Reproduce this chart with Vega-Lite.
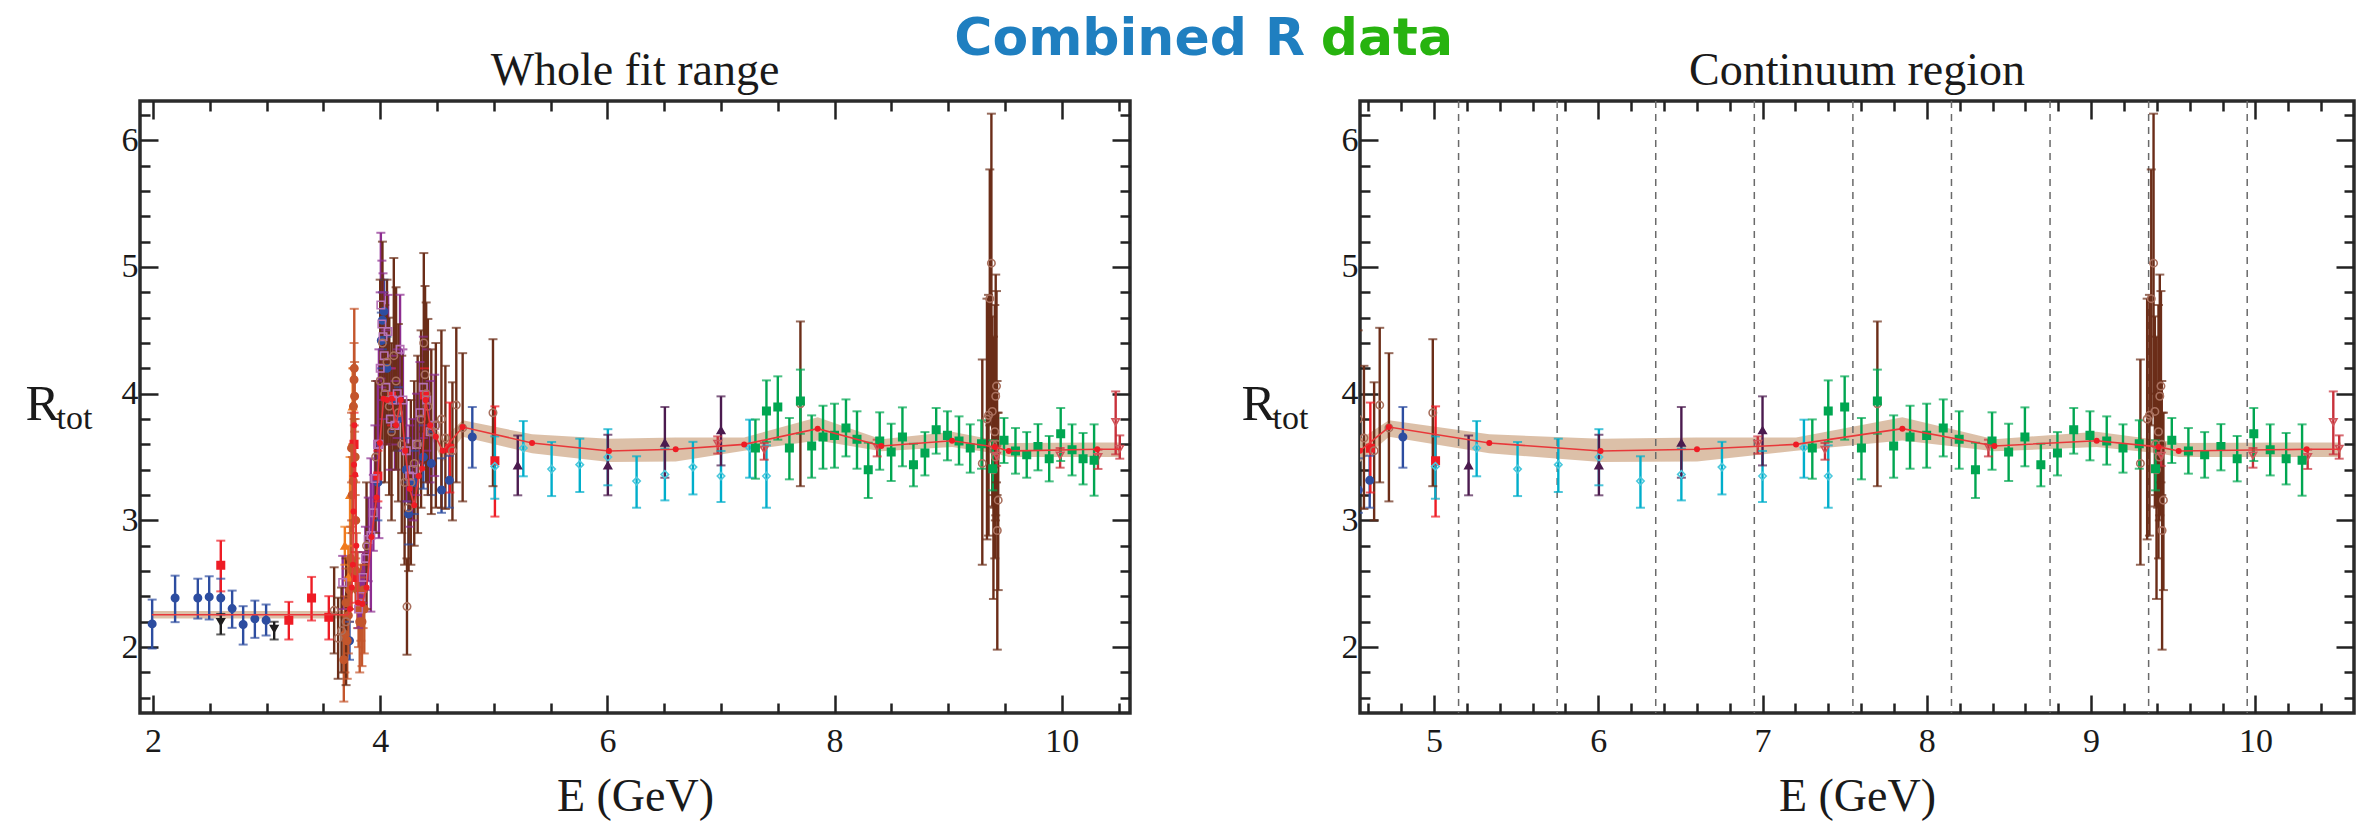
{
"$schema": "https://vega.github.io/schema/vega-lite/v6.json",
"background": "white",
"padding": {"left": 23, "top": 13, "right": 0, "bottom": 0},
"config": {
  "view": {"stroke": "#2b2b2b", "strokeWidth": 3.5},
  "axis": {"domain": false, "grid": false, "tickColor": "#222222", "tickWidth": 2.5, "labelFont": "Liberation Serif", "labelFontSize": 34, "labelColor": "#1a1a1a", "labelOverlap": false, "labelFlush": false, "labelBound": false, "titleFont": "Liberation Serif", "titleFontWeight": "normal", "titleColor": "#1a1a1a", "zindex": 1}
},
"title": {"text": "Combined R", "subtitle": "\u2800\u00a0\u00a0\u00a0\u00a0\u00a0\u00a0\u00a0\u00a0\u00a0\u00a0\u00a0\u00a0\u00a0\u00a0\u00a0\u00a0\u00a0\u00a0data", "anchor": "start", "frame": "bounds", "dx": 931, "offset": -20, "font": "DejaVu Sans", "fontSize": 52, "fontWeight": "bold", "color": "#1f7fc0", "subtitleFont": "DejaVu Sans", "subtitleFontSize": 52, "subtitleFontWeight": "bold", "subtitleColor": "#27b30f", "subtitlePadding": -52},
"datasets": {
  "fit": [
    {"E": 1.99, "R": 2.255, "lo": 2.225, "hi": 2.285},
    {"E": 3.72, "R": 2.255, "lo": 2.225, "hi": 2.285},
    {"E": 3.735, "R": 2.30, "lo": 2.26, "hi": 2.34},
    {"E": 3.75, "R": 2.47, "lo": 2.42, "hi": 2.52},
    {"E": 3.76, "R": 2.65, "lo": 2.60, "hi": 2.70},
    {"E": 3.765, "R": 3.07, "lo": 3.00, "hi": 3.14},
    {"E": 3.77, "R": 3.44, "lo": 3.36, "hi": 3.52},
    {"E": 3.773, "R": 3.75, "lo": 3.65, "hi": 3.85},
    {"E": 3.78, "R": 3.36, "lo": 3.28, "hi": 3.44},
    {"E": 3.79, "R": 2.80, "lo": 2.74, "hi": 2.86},
    {"E": 3.806, "R": 2.35, "lo": 2.30, "hi": 2.40},
    {"E": 3.842, "R": 2.34, "lo": 2.29, "hi": 2.39},
    {"E": 3.88, "R": 2.47, "lo": 2.42, "hi": 2.52},
    {"E": 3.924, "R": 2.87, "lo": 2.81, "hi": 2.93},
    {"E": 3.968, "R": 3.18, "lo": 3.11, "hi": 3.25},
    {"E": 3.997, "R": 3.61, "lo": 3.53, "hi": 3.69},
    {"E": 4.03, "R": 3.96, "lo": 3.88, "hi": 4.04},
    {"E": 4.06, "R": 3.95, "lo": 3.87, "hi": 4.03},
    {"E": 4.10, "R": 3.96, "lo": 3.88, "hi": 4.04},
    {"E": 4.14, "R": 3.75, "lo": 3.67, "hi": 3.83},
    {"E": 4.18, "R": 3.95, "lo": 3.87, "hi": 4.03},
    {"E": 4.22, "R": 3.55, "lo": 3.47, "hi": 3.63},
    {"E": 4.26, "R": 3.25, "lo": 3.18, "hi": 3.32},
    {"E": 4.30, "R": 3.12, "lo": 3.05, "hi": 3.19},
    {"E": 4.34, "R": 3.35, "lo": 3.28, "hi": 3.42},
    {"E": 4.37, "R": 3.41, "lo": 3.34, "hi": 3.48},
    {"E": 4.40, "R": 3.95, "lo": 3.87, "hi": 4.03},
    {"E": 4.44, "R": 3.75, "lo": 3.67, "hi": 3.83},
    {"E": 4.49, "R": 3.66, "lo": 3.58, "hi": 3.74},
    {"E": 4.55, "R": 3.55, "lo": 3.46, "hi": 3.64},
    {"E": 4.726, "R": 3.737, "lo": 3.66, "hi": 3.79},
    {"E": 5.337, "R": 3.611, "lo": 3.53, "hi": 3.68},
    {"E": 6.014, "R": 3.548, "lo": 3.46, "hi": 3.645},
    {"E": 6.601, "R": 3.561, "lo": 3.465, "hi": 3.655},
    {"E": 7.204, "R": 3.60, "lo": 3.55, "hi": 3.655},
    {"E": 7.851, "R": 3.724, "lo": 3.63, "hi": 3.815},
    {"E": 8.411, "R": 3.587, "lo": 3.545, "hi": 3.64},
    {"E": 9.034, "R": 3.629, "lo": 3.58, "hi": 3.70},
    {"E": 9.41, "R": 3.58, "lo": 3.53, "hi": 3.635},
    {"E": 9.533, "R": 3.548, "lo": 3.50, "hi": 3.61},
    {"E": 10.312, "R": 3.561, "lo": 3.50, "hi": 3.615},
    {"E": 10.52, "R": 3.561, "lo": 3.50, "hi": 3.615}
  ],
  "vlines": [{"E": 5.15}, {"E": 5.75}, {"E": 6.35}, {"E": 6.95}, {"E": 7.55}, {"E": 8.15}, {"E": 8.75}, {"E": 9.35}, {"E": 9.95}],
  "pts": [
    {"s": "blue", "E": 1.993, "R": 2.183, "lo": 1.989, "hi": 2.375},
    {"s": "blue", "E": 2.195, "R": 2.388, "lo": 2.197, "hi": 2.564},
    {"s": "blue", "E": 2.395, "R": 2.388, "lo": 2.225, "hi": 2.54},
    {"s": "blue", "E": 2.495, "R": 2.396, "lo": 2.218, "hi": 2.559},
    {"s": "blue", "E": 2.597, "R": 2.388, "lo": 2.257, "hi": 2.54},
    {"s": "blue", "E": 2.697, "R": 2.304, "lo": 2.152, "hi": 2.446},
    {"s": "blue", "E": 2.794, "R": 2.178, "lo": 2.02, "hi": 2.323},
    {"s": "blue", "E": 2.897, "R": 2.223, "lo": 2.073, "hi": 2.367},
    {"s": "blue", "E": 2.996, "R": 2.212, "lo": 2.092, "hi": 2.336},
    {"s": "blue", "E": 3.73, "R": 2.05, "lo": 1.90, "hi": 2.20},
    {"s": "blue", "E": 3.98, "R": 3.30, "lo": 3.00, "hi": 3.60},
    {"s": "blue", "E": 4.01, "R": 4.42, "lo": 4.20, "hi": 4.64},
    {"s": "blue", "E": 4.02, "R": 4.58, "lo": 4.35, "hi": 4.80},
    {"s": "blue", "E": 4.034, "R": 4.65, "lo": 4.40, "hi": 4.90},
    {"s": "blue", "E": 4.06, "R": 4.20, "lo": 3.95, "hi": 4.45},
    {"s": "blue", "E": 4.10, "R": 3.95, "lo": 3.70, "hi": 4.20},
    {"s": "blue", "E": 4.16, "R": 3.80, "lo": 3.55, "hi": 4.05},
    {"s": "blue", "E": 4.23, "R": 3.40, "lo": 3.15, "hi": 3.65},
    {"s": "blue", "E": 4.25, "R": 3.05, "lo": 2.81, "hi": 3.30},
    {"s": "blue", "E": 4.30, "R": 3.30, "lo": 3.05, "hi": 3.55},
    {"s": "blue", "E": 4.38, "R": 3.50, "lo": 3.25, "hi": 3.75},
    {"s": "blue", "E": 4.45, "R": 3.45, "lo": 3.20, "hi": 3.70},
    {"s": "blue", "E": 4.54, "R": 3.24, "lo": 3.06, "hi": 3.49},
    {"s": "blue", "E": 4.609, "R": 3.316, "lo": 3.10, "hi": 3.51},
    {"s": "blue", "E": 4.811, "R": 3.658, "lo": 3.416, "hi": 3.895},
    {"s": "black", "E": 2.597, "R": 2.199, "lo": 2.10, "hi": 2.262},
    {"s": "black", "E": 3.067, "R": 2.144, "lo": 2.06, "hi": 2.20},
    {"s": "red", "E": 2.597, "R": 2.646, "lo": 2.44, "hi": 2.84},
    {"s": "red", "E": 3.196, "R": 2.212, "lo": 2.06, "hi": 2.357},
    {"s": "red", "E": 3.396, "R": 2.388, "lo": 2.21, "hi": 2.554},
    {"s": "red", "E": 3.548, "R": 2.236, "lo": 2.06, "hi": 2.402},
    {"s": "red", "E": 3.77, "R": 3.60, "lo": 3.35, "hi": 3.85},
    {"s": "red", "E": 3.785, "R": 2.55, "lo": 2.35, "hi": 2.75},
    {"s": "red", "E": 3.98, "R": 3.35, "lo": 3.15, "hi": 3.55},
    {"s": "red", "E": 4.10, "R": 3.98, "lo": 3.75, "hi": 4.20},
    {"s": "red", "E": 4.39, "R": 3.99, "lo": 3.75, "hi": 4.20},
    {"s": "red", "E": 4.613, "R": 3.57, "lo": 3.22, "hi": 3.93},
    {"s": "red", "E": 5.01, "R": 3.47, "lo": 3.03, "hi": 3.90},
    {"s": "orange", "E": 3.689, "R": 2.80, "lo": 2.65, "hi": 2.95},
    {"s": "orange", "E": 3.72, "R": 2.55, "lo": 2.30, "hi": 2.80},
    {"s": "orange", "E": 3.735, "R": 3.20, "lo": 2.90, "hi": 3.50},
    {"s": "orange", "E": 3.758, "R": 3.90, "lo": 3.60, "hi": 4.20},
    {"s": "rust", "E": 3.680, "R": 1.90, "lo": 1.57, "hi": 2.25},
    {"s": "rust", "E": 3.690, "R": 2.10, "lo": 1.80, "hi": 2.40},
    {"s": "rust", "E": 3.700, "R": 2.35, "lo": 2.05, "hi": 2.62},
    {"s": "rust", "E": 3.710, "R": 2.05, "lo": 1.75, "hi": 2.35},
    {"s": "rust", "E": 3.720, "R": 2.25, "lo": 1.95, "hi": 2.55},
    {"s": "rust", "E": 3.730, "R": 2.45, "lo": 2.20, "hi": 2.70},
    {"s": "rust", "E": 3.740, "R": 2.70, "lo": 2.45, "hi": 2.95},
    {"s": "rust", "E": 3.748, "R": 2.67, "lo": 2.30, "hi": 3.00},
    {"s": "rust", "E": 3.748, "R": 3.57, "lo": 3.30, "hi": 3.85},
    {"s": "rust", "E": 3.755, "R": 3.20, "lo": 2.90, "hi": 3.50},
    {"s": "rust", "E": 3.763, "R": 3.31, "lo": 3.00, "hi": 3.60},
    {"s": "rust", "E": 3.765, "R": 3.90, "lo": 3.60, "hi": 4.20},
    {"s": "rust", "E": 3.770, "R": 4.11, "lo": 3.80, "hi": 4.40},
    {"s": "rust", "E": 3.772, "R": 4.20, "lo": 3.75, "hi": 4.67},
    {"s": "rust", "E": 3.775, "R": 3.98, "lo": 3.70, "hi": 4.25},
    {"s": "rust", "E": 3.780, "R": 3.50, "lo": 3.20, "hi": 3.80},
    {"s": "rust", "E": 3.785, "R": 3.00, "lo": 2.70, "hi": 3.30},
    {"s": "rust", "E": 3.790, "R": 2.60, "lo": 2.30, "hi": 2.90},
    {"s": "rust", "E": 3.800, "R": 2.45, "lo": 2.15, "hi": 2.75},
    {"s": "rust", "E": 3.810, "R": 2.30, "lo": 2.00, "hi": 2.60},
    {"s": "rust", "E": 3.820, "R": 2.20, "lo": 1.80, "hi": 2.60},
    {"s": "rust", "E": 3.830, "R": 2.35, "lo": 2.05, "hi": 2.65},
    {"s": "rust", "E": 3.840, "R": 2.20, "lo": 1.85, "hi": 2.55},
    {"s": "rust", "E": 3.850, "R": 2.45, "lo": 2.15, "hi": 2.75},
    {"s": "rust", "E": 3.860, "R": 2.30, "lo": 1.95, "hi": 2.65},
    {"s": "purple", "E": 3.670, "R": 2.51, "lo": 2.30, "hi": 2.72},
    {"s": "purple", "E": 3.810, "R": 2.30, "lo": 2.15, "hi": 2.45},
    {"s": "purple", "E": 3.830, "R": 2.40, "lo": 2.20, "hi": 2.60},
    {"s": "purple", "E": 3.850, "R": 2.55, "lo": 2.35, "hi": 2.75},
    {"s": "purple", "E": 3.870, "R": 2.70, "lo": 2.45, "hi": 2.95},
    {"s": "purple", "E": 3.895, "R": 2.85, "lo": 2.52, "hi": 3.18},
    {"s": "purple", "E": 3.918, "R": 2.88, "lo": 2.28, "hi": 3.49},
    {"s": "purple", "E": 3.940, "R": 3.06, "lo": 2.76, "hi": 3.36},
    {"s": "purple", "E": 3.954, "R": 3.33, "lo": 2.91, "hi": 3.75},
    {"s": "purple", "E": 3.977, "R": 3.60, "lo": 3.10, "hi": 4.10},
    {"s": "purple", "E": 3.989, "R": 3.60, "lo": 2.86, "hi": 4.35},
    {"s": "purple", "E": 4.000, "R": 4.20, "lo": 3.60, "hi": 4.80},
    {"s": "purple", "E": 4.006, "R": 4.70, "lo": 4.12, "hi": 5.27},
    {"s": "purple", "E": 4.015, "R": 4.55, "lo": 4.05, "hi": 5.05},
    {"s": "purple", "E": 4.025, "R": 4.45, "lo": 3.95, "hi": 4.95},
    {"s": "purple", "E": 4.035, "R": 4.30, "lo": 3.80, "hi": 4.80},
    {"s": "purple", "E": 4.050, "R": 4.05, "lo": 3.60, "hi": 4.50},
    {"s": "purple", "E": 4.070, "R": 4.49, "lo": 4.20, "hi": 4.78},
    {"s": "purple", "E": 4.090, "R": 3.80, "lo": 3.40, "hi": 4.20},
    {"s": "purple", "E": 4.110, "R": 3.95, "lo": 3.60, "hi": 4.30},
    {"s": "purple", "E": 4.130, "R": 3.75, "lo": 3.40, "hi": 4.10},
    {"s": "purple", "E": 4.150, "R": 4.00, "lo": 3.65, "hi": 4.35},
    {"s": "purple", "E": 4.175, "R": 4.35, "lo": 3.92, "hi": 4.78},
    {"s": "purple", "E": 4.200, "R": 3.95, "lo": 3.55, "hi": 4.35},
    {"s": "purple", "E": 4.230, "R": 3.55, "lo": 3.15, "hi": 3.95},
    {"s": "purple", "E": 4.260, "R": 3.35, "lo": 2.95, "hi": 3.75},
    {"s": "purple", "E": 4.290, "R": 3.40, "lo": 3.00, "hi": 3.80},
    {"s": "purple", "E": 4.320, "R": 3.60, "lo": 3.20, "hi": 4.00},
    {"s": "purple", "E": 4.350, "R": 3.85, "lo": 3.45, "hi": 4.25},
    {"s": "purple", "E": 4.380, "R": 4.05, "lo": 3.65, "hi": 4.45},
    {"s": "purple", "E": 4.410, "R": 3.95, "lo": 3.55, "hi": 4.35},
    {"s": "purple", "E": 4.440, "R": 3.70, "lo": 3.30, "hi": 4.10},
    {"s": "purple", "E": 4.480, "R": 3.75, "lo": 3.35, "hi": 4.15},
    {"s": "brown", "E": 3.595, "R": 2.29, "lo": 1.95, "hi": 2.63},
    {"s": "brown", "E": 3.630, "R": 2.07, "lo": 1.75, "hi": 2.39},
    {"s": "brown", "E": 3.660, "R": 2.13, "lo": 1.80, "hi": 2.47},
    {"s": "brown", "E": 3.700, "R": 2.20, "lo": 1.70, "hi": 2.70},
    {"s": "brown", "E": 3.880, "R": 2.80, "lo": 2.30, "hi": 3.30},
    {"s": "brown", "E": 3.960, "R": 3.50, "lo": 2.90, "hi": 4.10},
    {"s": "brown", "E": 4.000, "R": 4.10, "lo": 3.30, "hi": 4.90},
    {"s": "brown", "E": 4.020, "R": 4.40, "lo": 3.60, "hi": 5.20},
    {"s": "brown", "E": 4.040, "R": 4.00, "lo": 3.30, "hi": 4.70},
    {"s": "brown", "E": 4.060, "R": 4.25, "lo": 3.60, "hi": 4.90},
    {"s": "brown", "E": 4.080, "R": 3.90, "lo": 3.20, "hi": 4.60},
    {"s": "brown", "E": 4.100, "R": 3.70, "lo": 3.00, "hi": 4.40},
    {"s": "brown", "E": 4.120, "R": 4.30, "lo": 3.55, "hi": 5.07},
    {"s": "brown", "E": 4.140, "R": 4.10, "lo": 3.40, "hi": 4.84},
    {"s": "brown", "E": 4.160, "R": 3.85, "lo": 3.15, "hi": 4.55},
    {"s": "brown", "E": 4.190, "R": 3.60, "lo": 2.90, "hi": 4.30},
    {"s": "brown", "E": 4.215, "R": 3.30, "lo": 2.65, "hi": 3.95},
    {"s": "brown", "E": 4.236, "R": 2.32, "lo": 1.94, "hi": 2.70},
    {"s": "brown", "E": 4.250, "R": 3.10, "lo": 2.60, "hi": 3.60},
    {"s": "brown", "E": 4.270, "R": 3.30, "lo": 2.65, "hi": 3.95},
    {"s": "brown", "E": 4.300, "R": 3.45, "lo": 2.80, "hi": 4.10},
    {"s": "brown", "E": 4.330, "R": 3.60, "lo": 2.90, "hi": 4.30},
    {"s": "brown", "E": 4.360, "R": 3.80, "lo": 3.10, "hi": 4.50},
    {"s": "brown", "E": 4.384, "R": 4.40, "lo": 3.70, "hi": 5.11},
    {"s": "brown", "E": 4.395, "R": 4.15, "lo": 3.45, "hi": 4.85},
    {"s": "brown", "E": 4.405, "R": 4.00, "lo": 3.30, "hi": 4.72},
    {"s": "brown", "E": 4.420, "R": 3.90, "lo": 3.20, "hi": 4.59},
    {"s": "brown", "E": 4.450, "R": 3.70, "lo": 3.05, "hi": 4.35},
    {"s": "brown", "E": 4.490, "R": 3.75, "lo": 3.10, "hi": 4.40},
    {"s": "brown", "E": 4.539, "R": 3.80, "lo": 3.10, "hi": 4.50},
    {"s": "brown", "E": 4.574, "R": 3.65, "lo": 3.09, "hi": 4.22},
    {"s": "brown", "E": 4.636, "R": 3.55, "lo": 3.00, "hi": 4.09},
    {"s": "brown", "E": 4.670, "R": 3.91, "lo": 3.30, "hi": 4.52},
    {"s": "brown", "E": 4.726, "R": 3.73, "lo": 3.15, "hi": 4.32},
    {"s": "brown", "E": 4.993, "R": 3.85, "lo": 3.27, "hi": 4.43},
    {"s": "brown", "E": 7.699, "R": 3.92, "lo": 3.27, "hi": 4.57},
    {"s": "brown", "E": 9.300, "R": 3.45, "lo": 2.65, "hi": 4.27},
    {"s": "brown", "E": 9.341, "R": 3.80, "lo": 2.85, "hi": 4.75},
    {"s": "brown", "E": 9.355, "R": 3.83, "lo": 2.88, "hi": 4.78},
    {"s": "brown", "E": 9.366, "R": 4.75, "lo": 3.75, "hi": 5.77},
    {"s": "brown", "E": 9.380, "R": 5.03, "lo": 3.85, "hi": 6.21},
    {"s": "brown", "E": 9.388, "R": 3.86, "lo": 3.11, "hi": 4.61},
    {"s": "brown", "E": 9.392, "R": 3.60, "lo": 3.20, "hi": 4.00},
    {"s": "brown", "E": 9.398, "R": 3.40, "lo": 2.38, "hi": 4.45},
    {"s": "brown", "E": 9.405, "R": 3.55, "lo": 3.10, "hi": 4.00},
    {"s": "brown", "E": 9.410, "R": 3.70, "lo": 2.70, "hi": 4.70},
    {"s": "brown", "E": 9.415, "R": 3.50, "lo": 3.00, "hi": 4.00},
    {"s": "brown", "E": 9.418, "R": 3.98, "lo": 3.04, "hi": 4.94},
    {"s": "brown", "E": 9.425, "R": 4.06, "lo": 3.30, "hi": 4.81},
    {"s": "brown", "E": 9.430, "R": 3.60, "lo": 3.20, "hi": 4.10},
    {"s": "brown", "E": 9.432, "R": 2.92, "lo": 1.98, "hi": 3.85},
    {"s": "brown", "E": 9.440, "R": 3.16, "lo": 2.45, "hi": 3.85},
    {"s": "cyan", "E": 5.009, "R": 3.426, "lo": 3.171, "hi": 3.663},
    {"s": "cyan", "E": 5.26, "R": 3.571, "lo": 3.348, "hi": 3.784},
    {"s": "cyan", "E": 5.509, "R": 3.405, "lo": 3.192, "hi": 3.619},
    {"s": "cyan", "E": 5.757, "R": 3.44, "lo": 3.224, "hi": 3.645},
    {"s": "cyan", "E": 6.004, "R": 3.50, "lo": 3.277, "hi": 3.72},
    {"s": "cyan", "E": 6.257, "R": 3.31, "lo": 3.10, "hi": 3.506},
    {"s": "cyan", "E": 6.506, "R": 3.363, "lo": 3.158, "hi": 3.566},
    {"s": "cyan", "E": 6.753, "R": 3.421, "lo": 3.205, "hi": 3.62},
    {"s": "cyan", "E": 7.0, "R": 3.35, "lo": 3.145, "hi": 3.548},
    {"s": "cyan", "E": 7.252, "R": 3.574, "lo": 3.337, "hi": 3.795},
    {"s": "cyan", "E": 7.40, "R": 3.35, "lo": 3.10, "hi": 3.592},
    {"s": "plum", "E": 5.211, "R": 3.434, "lo": 3.198, "hi": 3.67},
    {"s": "plum", "E": 6.004, "R": 3.434, "lo": 3.198, "hi": 3.676},
    {"s": "plum", "E": 6.506, "R": 3.613, "lo": 3.337, "hi": 3.895},
    {"s": "plum", "E": 7.0, "R": 3.711, "lo": 3.434, "hi": 3.979},
    {"s": "darkred", "E": 6.971, "R": 3.605, "lo": 3.527, "hi": 3.663},
    {"s": "darkred", "E": 7.38, "R": 3.558, "lo": 3.479, "hi": 3.611},
    {"s": "darkred", "E": 8.375, "R": 3.579, "lo": 3.505, "hi": 3.637},
    {"s": "darkred", "E": 9.426, "R": 3.51, "lo": 3.43, "hi": 3.584},
    {"s": "darkred", "E": 9.985, "R": 3.513, "lo": 3.416, "hi": 3.571},
    {"s": "darkred", "E": 10.318, "R": 3.50, "lo": 3.406, "hi": 3.558},
    {"s": "darkred", "E": 10.474, "R": 3.776, "lo": 3.521, "hi": 4.018},
    {"s": "darkred", "E": 10.51, "R": 3.566, "lo": 3.487, "hi": 3.671},
    {"s": "green", "E": 7.303, "R": 3.571, "lo": 3.329, "hi": 3.797},
    {"s": "green", "E": 7.40, "R": 3.863, "lo": 3.62, "hi": 4.105},
    {"s": "green", "E": 7.50, "R": 3.895, "lo": 3.637, "hi": 4.137},
    {"s": "green", "E": 7.602, "R": 3.571, "lo": 3.324, "hi": 3.808},
    {"s": "green", "E": 7.699, "R": 3.942, "lo": 3.684, "hi": 4.19},
    {"s": "green", "E": 7.798, "R": 3.587, "lo": 3.337, "hi": 3.829},
    {"s": "green", "E": 7.898, "R": 3.658, "lo": 3.408, "hi": 3.905},
    {"s": "green", "E": 7.999, "R": 3.671, "lo": 3.416, "hi": 3.921},
    {"s": "green", "E": 8.10, "R": 3.729, "lo": 3.505, "hi": 3.955},
    {"s": "green", "E": 8.197, "R": 3.64, "lo": 3.408, "hi": 3.861},
    {"s": "green", "E": 8.296, "R": 3.40, "lo": 3.177, "hi": 3.613},
    {"s": "green", "E": 8.397, "R": 3.626, "lo": 3.40, "hi": 3.853},
    {"s": "green", "E": 8.498, "R": 3.54, "lo": 3.311, "hi": 3.763},
    {"s": "green", "E": 8.597, "R": 3.658, "lo": 3.427, "hi": 3.892},
    {"s": "green", "E": 8.694, "R": 3.44, "lo": 3.269, "hi": 3.605},
    {"s": "green", "E": 8.795, "R": 3.532, "lo": 3.355, "hi": 3.697},
    {"s": "green", "E": 8.894, "R": 3.716, "lo": 3.527, "hi": 3.887},
    {"s": "green", "E": 8.993, "R": 3.671, "lo": 3.474, "hi": 3.861},
    {"s": "green", "E": 9.095, "R": 3.626, "lo": 3.44, "hi": 3.821},
    {"s": "green", "E": 9.194, "R": 3.571, "lo": 3.377, "hi": 3.758},
    {"s": "green", "E": 9.293, "R": 3.605, "lo": 3.408, "hi": 3.79},
    {"s": "green", "E": 9.392, "R": 3.408, "lo": 3.237, "hi": 3.632},
    {"s": "green", "E": 9.491, "R": 3.632, "lo": 3.453, "hi": 3.808},
    {"s": "green", "E": 9.592, "R": 3.548, "lo": 3.369, "hi": 3.729},
    {"s": "green", "E": 9.691, "R": 3.519, "lo": 3.337, "hi": 3.697},
    {"s": "green", "E": 9.79, "R": 3.584, "lo": 3.395, "hi": 3.76},
    {"s": "green", "E": 9.889, "R": 3.487, "lo": 3.308, "hi": 3.666},
    {"s": "green", "E": 9.99, "R": 3.684, "lo": 3.469, "hi": 3.887},
    {"s": "green", "E": 10.09, "R": 3.558, "lo": 3.355, "hi": 3.758},
    {"s": "green", "E": 10.187, "R": 3.487, "lo": 3.284, "hi": 3.69},
    {"s": "green", "E": 10.284, "R": 3.474, "lo": 3.195, "hi": 3.758}
  ]
},
"spacing": 230,
"bounds": "flush",
"resolve": {"scale": {"x": "independent", "y": "independent"}},
"hconcat": [
  {
    "width": 990, "height": 612,
    "title": {"text": "Whole fit range", "font": "Liberation Serif", "fontSize": 46, "fontWeight": "normal", "color": "#1a1a1a", "baseline": "alphabetic", "offset": -33, "frame": "group", "anchor": "middle"},
    "resolve": {"axis": {"x": "independent", "y": "independent"}},
    "layer": [
      {
        "data": {"name": "fit"},
        "mark": {"type": "area", "color": "#d8b99f", "opacity": 0.9, "clip": true},
        "encoding": {
          "x": {"field": "E", "type": "quantitative", "scale": {"domain": [1.886, 10.6], "nice": false, "zero": false},
                "axis": {"orient": "bottom", "values": [2,2.5,3,3.5,4,4.5,5,5.5,6,6.5,7,7.5,8,8.5,9,9.5,10,10.5],
                         "labelExpr": "abs(datum.value/2 - round(datum.value/2)) < 0.01 ? format(datum.value, 'd') : ''",
                         "tickSize": {"condition": {"test": "abs(datum.value/2 - round(datum.value/2)) < 0.01", "value": -18}, "value": -10},
                         "labelPadding": 29, "title": "E (GeV)", "titleFontSize": 46, "titleBaseline": "alphabetic", "titleY": 97}},
          "y": {"field": "lo", "type": "quantitative", "scale": {"domain": [1.48, 6.31], "nice": false, "zero": false},
                "axis": {"orient": "left", "values": [1.6,1.8,2,2.2,2.4,2.6,2.8,3,3.2,3.4,3.6,3.8,4,4.2,4.4,4.6,4.8,5,5.2,5.4,5.6,5.8,6,6.2],
                         "labelExpr": "abs(datum.value - round(datum.value)) < 0.01 ? format(datum.value, 'd') : ''",
                         "tickSize": {"condition": {"test": "abs(datum.value - round(datum.value)) < 0.01", "value": -18}, "value": -10},
                         "labelPadding": 20, "title": "R", "titleFontSize": 51, "titleAngle": 0, "titleAlign": "center", "titleBaseline": "alphabetic", "titleX": -98, "titleY": 318}},
          "y2": {"field": "hi"}
        }
      },
      {
        "data": {"name": "pts"},
        "mark": {"type": "rule", "strokeWidth": 2.4, "clip": true},
        "encoding": {
          "x": {"field": "E", "type": "quantitative",
                "axis": {"orient": "top", "values": [2,2.5,3,3.5,4,4.5,5,5.5,6,6.5,7,7.5,8,8.5,9,9.5,10,10.5], "labels": false, "title": null,
                         "tickSize": {"condition": {"test": "abs(datum.value/2 - round(datum.value/2)) < 0.01", "value": -18}, "value": -10}}},
          "y": {"field": "lo", "type": "quantitative",
                "axis": {"orient": "right", "values": [1.6,1.8,2,2.2,2.4,2.6,2.8,3,3.2,3.4,3.6,3.8,4,4.2,4.4,4.6,4.8,5,5.2,5.4,5.6,5.8,6,6.2], "labels": false, "title": null,
                         "tickSize": {"condition": {"test": "abs(datum.value - round(datum.value)) < 0.01", "value": -18}, "value": -10}}},
          "y2": {"field": "hi"},
          "color": {"field": "s", "type": "nominal", "legend": null,
                    "scale": {"domain": ["blue","black","red","orange","rust","purple","brown","cyan","plum","green","darkred"],
                              "range": ["#2d4da0","#1e1e1e","#ee1c25","#f07a1e","#c4562c","#8d2d90","#6b2d18","#00aecb","#4b1b4f","#00a651","#c8313b"]}}
        }
      },
      {
        "data": {"name": "pts"},
        "mark": {"type": "tick", "orient": "horizontal", "size": 9, "thickness": 2, "clip": true},
        "encoding": {
          "x": {"field": "E", "type": "quantitative", "axis": null},
          "y": {"field": "lo", "type": "quantitative",
                "axis": {"orient": "left", "ticks": false, "labels": false, "title": "tot", "titleFontSize": 34, "titleAngle": 0, "titleAlign": "center", "titleBaseline": "alphabetic", "titleX": -66, "titleY": 327}},
          "color": {"field": "s", "type": "nominal", "legend": null}
        }
      },
      {
        "data": {"name": "pts"},
        "mark": {"type": "tick", "orient": "horizontal", "size": 9, "thickness": 2, "clip": true},
        "encoding": {
          "x": {"field": "E", "type": "quantitative", "axis": null},
          "y": {"field": "hi", "type": "quantitative", "axis": null},
          "color": {"field": "s", "type": "nominal", "legend": null}
        }
      },
      {
        "data": {"name": "pts"},
        "mark": {"type": "point", "size": 55, "strokeWidth": 1.6, "opacity": 1, "clip": true},
        "encoding": {
          "x": {"field": "E", "type": "quantitative", "axis": null},
          "y": {"field": "R", "type": "quantitative", "axis": null},
          "shape": {"field": "s", "type": "nominal", "legend": null,
                    "scale": {"domain": ["blue","black","red","orange","rust","purple","brown","cyan","plum","green","darkred"],
                              "range": ["circle","triangle-down","square","triangle-up","circle","square","circle","diamond","triangle-up","square","triangle-down"]}},
          "fill": {"field": "s", "type": "nominal", "legend": null,
                   "scale": {"domain": ["blue","black","red","orange","rust","purple","brown","cyan","plum","green","darkred"],
                             "range": ["#2d4da0","#1e1e1e","#ee1c25","#f07a1e","#c4562c","transparent","transparent","transparent","#4b1b4f","#00a651","transparent"]}},
          "stroke": {"field": "s", "type": "nominal", "legend": null,
                     "scale": {"domain": ["blue","black","red","orange","rust","purple","brown","cyan","plum","green","darkred"],
                               "range": ["#2d4da0","#1e1e1e","#ee1c25","#f07a1e","#c4562c","#b673b6","#a9705e","#4cc8dc","#4b1b4f","#00a651","#d0565c"]}}
        }
      },
      {
        "data": {"name": "fit"},
        "mark": {"type": "line", "color": "#e8383a", "strokeWidth": 1.6, "clip": true},
        "encoding": {
          "x": {"field": "E", "type": "quantitative", "axis": null},
          "y": {"field": "R", "type": "quantitative", "axis": null}
        }
      },
      {
        "data": {"name": "fit"},
        "transform": [{"filter": "datum.E > 3.72 && datum.E < 10.5"}],
        "mark": {"type": "circle", "color": "#ee1c25", "size": 36, "opacity": 1, "clip": true},
        "encoding": {
          "x": {"field": "E", "type": "quantitative", "axis": null},
          "y": {"field": "R", "type": "quantitative", "axis": null}
        }
      }
    ]
  },
  {
    "width": 994, "height": 612,
    "title": {"text": "Continuum region", "font": "Liberation Serif", "fontSize": 46, "fontWeight": "normal", "color": "#1a1a1a", "baseline": "alphabetic", "offset": -33, "frame": "group", "anchor": "middle"},
    "resolve": {"axis": {"x": "independent", "y": "independent"}},
    "layer": [
      {
        "data": {"name": "fit"},
        "mark": {"type": "area", "color": "#d8b99f", "opacity": 0.9, "clip": true},
        "encoding": {
          "x": {"field": "E", "type": "quantitative", "scale": {"domain": [4.55, 10.6], "nice": false, "zero": false},
                "axis": {"orient": "bottom", "values": [4.6,4.8,5,5.2,5.4,5.6,5.8,6,6.2,6.4,6.6,6.8,7,7.2,7.4,7.6,7.8,8,8.2,8.4,8.6,8.8,9,9.2,9.4,9.6,9.8,10,10.2,10.4],
                         "labelExpr": "abs(datum.value - round(datum.value)) < 0.01 ? format(datum.value, 'd') : ''",
                         "tickSize": {"condition": {"test": "abs(datum.value - round(datum.value)) < 0.01", "value": -18}, "value": -10},
                         "labelPadding": 29, "title": "E (GeV)", "titleFontSize": 46, "titleBaseline": "alphabetic", "titleY": 97}},
          "y": {"field": "lo", "type": "quantitative", "scale": {"domain": [1.48, 6.31], "nice": false, "zero": false},
                "axis": {"orient": "left", "values": [1.6,1.8,2,2.2,2.4,2.6,2.8,3,3.2,3.4,3.6,3.8,4,4.2,4.4,4.6,4.8,5,5.2,5.4,5.6,5.8,6,6.2],
                         "labelExpr": "abs(datum.value - round(datum.value)) < 0.01 ? format(datum.value, 'd') : ''",
                         "tickSize": {"condition": {"test": "abs(datum.value - round(datum.value)) < 0.01", "value": -18}, "value": -10},
                         "labelPadding": 20, "title": "R", "titleFontSize": 51, "titleAngle": 0, "titleAlign": "center", "titleBaseline": "alphabetic", "titleX": -102, "titleY": 318}},
          "y2": {"field": "hi"}
        }
      },
      {
        "data": {"name": "vlines"},
        "mark": {"type": "rule", "color": "#6a6a6a", "strokeWidth": 1.5, "strokeDash": [7, 6], "clip": true},
        "encoding": {
          "x": {"field": "E", "type": "quantitative", "axis": null}
        }
      },
      {
        "data": {"name": "pts"},
        "mark": {"type": "rule", "strokeWidth": 2.4, "clip": true},
        "encoding": {
          "x": {"field": "E", "type": "quantitative",
                "axis": {"orient": "top", "values": [4.6,4.8,5,5.2,5.4,5.6,5.8,6,6.2,6.4,6.6,6.8,7,7.2,7.4,7.6,7.8,8,8.2,8.4,8.6,8.8,9,9.2,9.4,9.6,9.8,10,10.2,10.4], "labels": false, "title": null,
                         "tickSize": {"condition": {"test": "abs(datum.value - round(datum.value)) < 0.01", "value": -18}, "value": -10}}},
          "y": {"field": "lo", "type": "quantitative",
                "axis": {"orient": "right", "values": [1.6,1.8,2,2.2,2.4,2.6,2.8,3,3.2,3.4,3.6,3.8,4,4.2,4.4,4.6,4.8,5,5.2,5.4,5.6,5.8,6,6.2], "labels": false, "title": null,
                         "tickSize": {"condition": {"test": "abs(datum.value - round(datum.value)) < 0.01", "value": -18}, "value": -10}}},
          "y2": {"field": "hi"},
          "color": {"field": "s", "type": "nominal", "legend": null,
                    "scale": {"domain": ["blue","black","red","orange","rust","purple","brown","cyan","plum","green","darkred"],
                              "range": ["#2d4da0","#1e1e1e","#ee1c25","#f07a1e","#c4562c","#8d2d90","#6b2d18","#00aecb","#4b1b4f","#00a651","#c8313b"]}}
        }
      },
      {
        "data": {"name": "pts"},
        "mark": {"type": "tick", "orient": "horizontal", "size": 9, "thickness": 2, "clip": true},
        "encoding": {
          "x": {"field": "E", "type": "quantitative", "axis": null},
          "y": {"field": "lo", "type": "quantitative",
                "axis": {"orient": "left", "ticks": false, "labels": false, "title": "tot", "titleFontSize": 34, "titleAngle": 0, "titleAlign": "center", "titleBaseline": "alphabetic", "titleX": -70, "titleY": 327}},
          "color": {"field": "s", "type": "nominal", "legend": null}
        }
      },
      {
        "data": {"name": "pts"},
        "mark": {"type": "tick", "orient": "horizontal", "size": 9, "thickness": 2, "clip": true},
        "encoding": {
          "x": {"field": "E", "type": "quantitative", "axis": null},
          "y": {"field": "hi", "type": "quantitative", "axis": null},
          "color": {"field": "s", "type": "nominal", "legend": null}
        }
      },
      {
        "data": {"name": "pts"},
        "mark": {"type": "point", "size": 55, "strokeWidth": 1.6, "opacity": 1, "clip": true},
        "encoding": {
          "x": {"field": "E", "type": "quantitative", "axis": null},
          "y": {"field": "R", "type": "quantitative", "axis": null},
          "shape": {"field": "s", "type": "nominal", "legend": null,
                    "scale": {"domain": ["blue","black","red","orange","rust","purple","brown","cyan","plum","green","darkred"],
                              "range": ["circle","triangle-down","square","triangle-up","circle","square","circle","diamond","triangle-up","square","triangle-down"]}},
          "fill": {"field": "s", "type": "nominal", "legend": null,
                   "scale": {"domain": ["blue","black","red","orange","rust","purple","brown","cyan","plum","green","darkred"],
                             "range": ["#2d4da0","#1e1e1e","#ee1c25","#f07a1e","#c4562c","transparent","transparent","transparent","#4b1b4f","#00a651","transparent"]}},
          "stroke": {"field": "s", "type": "nominal", "legend": null,
                     "scale": {"domain": ["blue","black","red","orange","rust","purple","brown","cyan","plum","green","darkred"],
                               "range": ["#2d4da0","#1e1e1e","#ee1c25","#f07a1e","#c4562c","#b673b6","#a9705e","#4cc8dc","#4b1b4f","#00a651","#d0565c"]}}
        }
      },
      {
        "data": {"name": "fit"},
        "mark": {"type": "line", "color": "#e8383a", "strokeWidth": 1.6, "clip": true},
        "encoding": {
          "x": {"field": "E", "type": "quantitative", "axis": null},
          "y": {"field": "R", "type": "quantitative", "axis": null}
        }
      },
      {
        "data": {"name": "fit"},
        "transform": [{"filter": "datum.E > 3.72 && datum.E < 10.5"}],
        "mark": {"type": "circle", "color": "#ee1c25", "size": 36, "opacity": 1, "clip": true},
        "encoding": {
          "x": {"field": "E", "type": "quantitative", "axis": null},
          "y": {"field": "R", "type": "quantitative", "axis": null}
        }
      }
    ]
  }
]
}
